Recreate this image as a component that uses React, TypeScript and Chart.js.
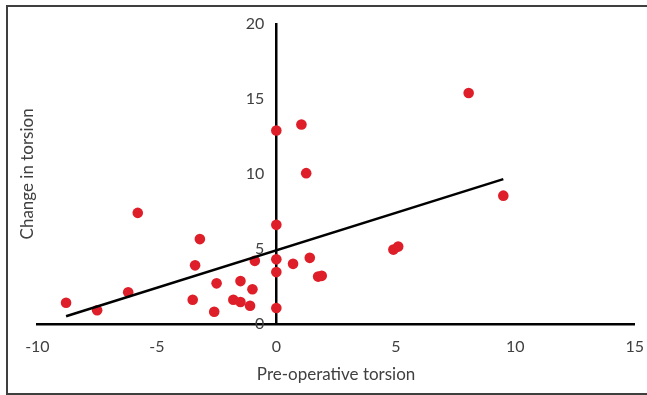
import React, { useEffect, useRef } from "react";
import { Chart, registerables } from "chart.js";

Chart.register(...registerables);

// Pre-operative torsion (x) and change in torsion (y)
const preOpTorsion = [
  -8.8, -7.5, -6.2, -5.8, -3.2, -3.4, -3.5, -2.5, -2.6, -1.8, -1.5, -1.5, -1.0, -1.1, -0.9,
  0, 0, 0, 0, 0,
  0.7, 1.4, 1.75, 1.9, 1.05, 1.25, 8.05, 9.5, 4.9, 5.1,
];
const changeInTorsion = [
  1.4, 0.9, 2.1, 7.4, 5.65, 3.9, 1.6, 2.7, 0.8, 1.6, 1.45, 2.85, 2.3, 1.2, 4.2,
  6.6, 4.3, 3.45, 1.05, 12.9,
  4.0, 4.4, 3.15, 3.2, 13.3, 10.05, 15.4, 8.55, 4.95, 5.15,
];

// Linear trendline end points
const trendX = [-8.8, 9.5];
const trendY = [0.5, 9.65];

const xTicks = [-10, -5, 0, 5, 10, 15];
const yTicks = [0, 5, 10, 15, 20];

const FONT = "Lato, 'Open Sans', sans-serif";
const TEXT = "#404040";

export default function App() {
  const ref = useRef<HTMLCanvasElement | null>(null);

  useEffect(() => {
    document.documentElement.style.overflow = "hidden";
    document.body.style.overflow = "hidden";
    const canvas = ref.current;
    if (!canvas) return;
    const chart = new Chart(canvas, {
      type: "scatter",
      data: {
        datasets: [
          {
            type: "line",
            label: "Trend",
            data: trendX.map((x, i) => ({ x, y: trendY[i] })),
            borderColor: "#000000",
            borderWidth: 2.5,
            pointRadius: 0,
            fill: false,
            order: 0,
          },
          {
            type: "scatter",
            label: "Patients",
            data: preOpTorsion.map((x, i) => ({ x, y: changeInTorsion[i] })),
            backgroundColor: "rgb(222, 30, 40)",
            borderWidth: 0,
            pointRadius: 5.3,
            order: 1,
          },
        ],
      },
      options: {
        animation: false,
        responsive: false,
        events: [],
        layout: { padding: { left: 10, right: 2, top: 24, bottom: 8 } },
        plugins: { legend: { display: false }, tooltip: { enabled: false } },
        scales: {
          x: {
            type: "linear",
            position: "bottom",
            min: -10,
            max: 15,
            afterBuildTicks: (s: any) => {
              s.ticks = xTicks.map((v) => ({ value: v }));
            },
            grid: {
              display: true,
              drawOnChartArea: false,
              drawTicks: true,
              tickLength: 10,
              color: "rgba(0,0,0,0)",
            },
            border: { display: true, color: "#000000", width: 2.5 },
            ticks: {
              padding: 3,
              color: TEXT,
              font: { family: FONT, size: 16 },
            },
            title: {
              display: true,
              text: "Pre-operative torsion",
              color: TEXT,
              font: { family: FONT, size: 17 },
              padding: { top: 5.6, bottom: 2 },
            },
          },
          yTitle: {
            type: "linear",
            position: "left",
            display: true,
            min: 0,
            max: 20,
            ticks: { display: false },
            grid: { display: false, drawTicks: false },
            border: { display: false },
            title: {
              display: true,
              text: "Change in torsion",
              color: TEXT,
              font: { family: FONT, size: 17 },
              padding: { top: 7, bottom: 0 },
            },
          },
          // tick labels, set just left of the vertical axis line
          yLabels: {
            type: "linear",
            position: { x: -0.5 } as any,
            min: 0,
            max: 20,
            afterBuildTicks: (s: any) => {
              s.ticks = yTicks.map((v) => ({ value: v }));
            },
            grid: { display: false, drawTicks: false },
            border: { display: false },
            ticks: {
              color: TEXT,
              font: { family: FONT, size: 16 },
            },
          },
          // the vertical axis line crossing at x = 0
          y: {
            type: "linear",
            position: { x: 0 } as any,
            min: 0,
            max: 20,
            grid: { display: false, drawTicks: false },
            border: { display: true, color: "#000000", width: 2.5 },
            ticks: { display: false },
          },
        },
      },
    });
    return () => chart.destroy();
  }, []);

  return (
    <div
      style={{
        position: "fixed",
        left: 0,
        top: 0,
        width: 647,
        height: 395,
        overflow: "hidden",
        background: "#ffffff",
      }}
    >
      <div
        style={{
          position: "absolute",
          left: 6,
          top: 5,
          width: 700,
          height: 386,
          border: "2px solid #3f3f3f",
        }}
      />
      <canvas
        ref={ref}
        width={647}
        height={395}
        style={{ position: "absolute", left: 0, top: 0, width: 647, height: 395 }}
      />
    </div>
  );
}
